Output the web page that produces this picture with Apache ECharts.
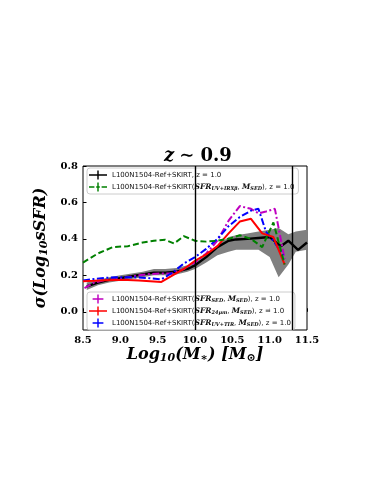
<!DOCTYPE html>
<html>
<head>
<meta charset="utf-8">
<script src="https://cdn.jsdelivr.net/npm/echarts@6/dist/echarts.min.js"></script>
<style>
html, body { margin: 0; padding: 0; background: #fff; }
#chart { width: 383px; height: 495px; }
</style>
</head>
<body>
<div id="chart"></div>
<script>
// sigma(log sSFR) vs stellar mass, z ~ 0.9
var blackX = [8.55, 8.7, 8.85, 9.0, 9.15, 9.3, 9.45, 9.6, 9.75, 9.9, 10.0, 10.15, 10.3, 10.45, 10.55, 10.7, 10.85, 11.0, 11.15, 11.25, 11.38, 11.5];
var blackY = [0.14, 0.16, 0.175, 0.185, 0.195, 0.205, 0.215, 0.215, 0.22, 0.235, 0.255, 0.30, 0.355, 0.39, 0.397, 0.40, 0.405, 0.41, 0.36, 0.39, 0.34, 0.38];

var bandX  = [8.55, 8.7, 8.85, 9.0, 9.15, 9.3, 9.45, 9.6, 9.75, 9.9, 10.0, 10.15, 10.3, 10.45, 10.55, 10.7, 10.85, 11.0, 11.12, 11.25, 11.35, 11.5];
var bandLo = [0.12, 0.145, 0.16, 0.17, 0.18, 0.19, 0.2, 0.2, 0.205, 0.22, 0.235, 0.27, 0.31, 0.33, 0.34, 0.34, 0.34, 0.30, 0.19, 0.26, 0.33, 0.34];
var bandHi = [0.16, 0.175, 0.19, 0.2, 0.21, 0.22, 0.235, 0.235, 0.24, 0.255, 0.275, 0.315, 0.365, 0.41, 0.42, 0.43, 0.44, 0.45, 0.46, 0.425, 0.44, 0.45];

var greenX = [8.5, 8.7, 8.9, 9.1, 9.3, 9.45, 9.6, 9.72, 9.85, 10.0, 10.15, 10.3, 10.45, 10.6, 10.75, 10.9, 11.05, 11.2];
var greenY = [0.27, 0.32, 0.355, 0.36, 0.38, 0.39, 0.395, 0.375, 0.415, 0.39, 0.385, 0.39, 0.40, 0.42, 0.40, 0.355, 0.49, 0.26];

var magX = [8.52, 8.65, 8.8, 8.95, 9.1, 9.25, 9.4, 9.55, 9.7, 9.85, 10.0, 10.15, 10.3, 10.45, 10.6, 10.75, 10.85, 10.95, 11.07, 11.2];
var magY = [0.13, 0.16, 0.175, 0.18, 0.19, 0.2, 0.207, 0.21, 0.21, 0.235, 0.27, 0.32, 0.39, 0.5, 0.58, 0.565, 0.54, 0.55, 0.565, 0.29];

var redX = [8.5, 8.65, 8.8, 8.95, 9.1, 9.25, 9.4, 9.55, 9.7, 9.85, 10.0, 10.15, 10.3, 10.45, 10.6, 10.75, 10.9, 11.05, 11.2];
var redY = [0.168, 0.17, 0.173, 0.175, 0.175, 0.172, 0.168, 0.164, 0.2, 0.235, 0.28, 0.315, 0.36, 0.43, 0.495, 0.51, 0.43, 0.41, 0.26];

var blueX = [8.5, 8.65, 8.8, 8.95, 9.1, 9.25, 9.4, 9.55, 9.7, 9.85, 10.0, 10.15, 10.3, 10.45, 10.6, 10.75, 10.85, 10.95, 11.05, 11.18];
var blueY = [0.172, 0.18, 0.186, 0.19, 0.19, 0.188, 0.184, 0.178, 0.215, 0.265, 0.3, 0.345, 0.4, 0.47, 0.52, 0.555, 0.565, 0.44, 0.39, 0.31];

var vlines = [10.0, 11.3];
var yTicks = [0.0, 0.2, 0.4, 0.6, 0.8];

var names = [
    'L100N1504-Ref+SKIRT, z = 1.0',
    'L100N1504-Ref+SKIRT(SFR_UV+IRXb, M_SED), z = 1.0',
    'L100N1504-Ref+SKIRT(SFR_SED, M_SED), z = 1.0',
    'L100N1504-Ref+SKIRT(SFR_24um, M_SED), z = 1.0',
    'L100N1504-Ref+SKIRT(SFR_UV+TIR, M_SED), z = 1.0'
];
var subs = [null, 'UV+IRXβ', 'SED', '24μm', 'UV+TIR'];

function pairs(xs, ys) {
    return xs.map(function (x, i) { return [x, ys[i]]; });
}

var serif = 'DejaVu Serif';
var legendRich = {
    t: { fontFamily: 'DejaVu Sans', fontSize: 7, color: '#111' },
    m: { fontFamily: serif, fontStyle: 'italic', fontWeight: 'bold', fontSize: 7.5, color: '#111' },
    s: { fontFamily: serif, fontStyle: 'italic', fontWeight: 'bold', fontSize: 5, color: '#111', padding: [3, 0, 0, 0] }
};
function legendText(name) {
    var i = names.indexOf(name);
    if (i === 0) return '{t|' + name + '}';
    return '{t|L100N1504-Ref+SKIRT(}{m|SFR}{s|' + subs[i] + '}{t|, }{m|M}{s|SED}{t|), z = 1.0}';
}

// errorbar-like legend handles
var iconSolid = 'path://M0,4.2h20v1.6h-20z M9.2,0h1.6v10h-1.6z';
var iconDash = 'path://M0,4.2h6v1.6h-6z M8,4.2h4v1.6h-4z M9.2,0h1.6v10h-1.6z M14,4.2h6v1.6h-6z';
var iconPlus = 'path://M4,4.2h12v1.6h-12z M9.2,0h1.6v10h-1.6z';

var legendBase = {
    orient: 'vertical',
    itemWidth: 18,
    itemHeight: 9,
    itemGap: 2,
    padding: [2, 4, 2, 2],
    backgroundColor: 'rgba(255,255,255,0.8)',
    borderColor: '#ccc',
    borderWidth: 1,
    borderRadius: 3,
    formatter: legendText,
    textStyle: { rich: legendRich, lineHeight: 10 }
};

// shaded scatter band around the reference relation
function renderBand(params, api) {
    if (params.dataIndex !== 0) return;
    var pts = [];
    for (var i = 0; i < bandX.length; i++) pts.push(api.coord([bandX[i], bandHi[i]]));
    for (var j = bandX.length - 1; j >= 0; j--) pts.push(api.coord([bandX[j], bandLo[j]]));
    return {
        type: 'polygon',
        shape: { points: pts },
        style: { fill: '#808080' },
        silent: true
    };
}

var chart = echarts.init(document.getElementById('chart'), null, { renderer: 'canvas' });

var option = {
    animation: false,
    backgroundColor: '#fff',
    title: {
        text: '{i|z} {n|∼ 0.9}',
        left: 159,
        top: 142,
        textStyle: {
            rich: {
                i: { fontFamily: serif, fontStyle: 'italic', fontWeight: 'bold', fontSize: 18, color: '#000' },
                n: { fontFamily: serif, fontWeight: 'bold', fontSize: 18, color: '#000' }
            }
        }
    },
    legend: [
        Object.assign({}, legendBase, {
            left: 87, top: 168,
            data: [
                { name: names[0], icon: iconSolid },
                { name: names[1], icon: iconDash }
            ]
        }),
        Object.assign({}, legendBase, {
            left: 87, top: 292,
            data: [
                { name: names[2], icon: iconPlus },
                { name: names[3], icon: iconSolid },
                { name: names[4], icon: iconPlus }
            ]
        })
    ],
    grid: {
        left: 83, top: 166, width: 224, height: 164,
        show: true, borderColor: '#000', borderWidth: 1, backgroundColor: 'transparent'
    },
    xAxis: {
        type: 'value',
        min: 8.5, max: 11.5, interval: 0.5,
        axisLine: { show: false },
        axisTick: { inside: true, length: 3.5, lineStyle: { color: '#000' } },
        splitLine: { show: false },
        axisLabel: {
            fontFamily: serif, fontWeight: 'bold', fontSize: 10, color: '#000', margin: 5,
            formatter: function (v) { return v.toFixed(1); }
        },
        name: '{a|Log}{b|10}{a|(M}{c|∗}{a|) [M}{b|⊙}{a|]}',
        nameLocation: 'middle',
        nameGap: 16,
        nameTextStyle: {
            rich: {
                a: { fontFamily: serif, fontStyle: 'italic', fontWeight: 'bold', fontSize: 16, color: '#000' },
                b: { fontFamily: serif, fontStyle: 'italic', fontWeight: 'bold', fontSize: 11, color: '#000', padding: [7, 0, 0, 0] },
                c: { fontFamily: serif, fontWeight: 'bold', fontSize: 11, color: '#000', padding: [7, 0, 0, 0] }
            }
        }
    },
    yAxis: {
        type: 'value',
        min: -0.1, max: 0.8, interval: 0.1,
        axisLine: { show: false },
        axisTick: { inside: true, length: 3.5, customValues: yTicks, lineStyle: { color: '#000' } },
        splitLine: { show: false },
        axisLabel: {
            customValues: yTicks,
            fontFamily: serif, fontWeight: 'bold', fontSize: 10, color: '#000', margin: 5,
            formatter: function (v) { return v.toFixed(1); }
        },
        name: '{a|σ(Log}{b|10}{a|sSFR)}',
        nameLocation: 'middle',
        nameRotate: 90,
        nameGap: 26,
        nameTextStyle: {
            rich: {
                a: { fontFamily: serif, fontStyle: 'italic', fontWeight: 'bold', fontSize: 16, color: '#000' },
                b: { fontFamily: serif, fontStyle: 'italic', fontWeight: 'bold', fontSize: 11, color: '#000', padding: [7, 0, 0, 0] }
            }
        }
    },
    series: [
        {
            name: 'band', type: 'custom', silent: true, z: 1,
            renderItem: renderBand,
            encode: { x: 0, y: [1, 2] },
            data: bandX.map(function (x, i) { return [x, bandLo[i], bandHi[i]]; })
        },
        {
            name: names[0], type: 'line', symbol: 'none', color: '#000', z: 2,
            lineStyle: { color: '#000', width: 2.4 },
            data: pairs(blackX, blackY),
            markLine: {
                silent: true, symbol: 'none', label: { show: false },
                lineStyle: { color: '#000', width: 1.4, type: 'solid' },
                data: vlines.map(function (v) { return { xAxis: v }; })
            }
        },
        {
            name: names[2], type: 'line', symbol: 'none', color: '#bf00bf', z: 3,
            lineStyle: { color: '#bf00bf', width: 2, type: [7, 2.5, 2, 2.5] },
            data: pairs(magX, magY)
        },
        {
            name: names[4], type: 'line', symbol: 'none', color: '#0000ff', z: 3,
            lineStyle: { color: '#0000ff', width: 2, type: [7, 2.5, 2, 2.5] },
            data: pairs(blueX, blueY)
        },
        {
            name: names[3], type: 'line', symbol: 'none', color: '#ff0000', z: 3,
            lineStyle: { color: '#ff0000', width: 2 },
            data: pairs(redX, redY)
        },
        {
            name: names[1], type: 'line', symbol: 'none', color: '#008000', z: 3,
            lineStyle: { color: '#008000', width: 2, type: [6, 3] },
            data: pairs(greenX, greenY)
        }
    ]
};

chart.setOption(option);
</script>
</body>
</html>
